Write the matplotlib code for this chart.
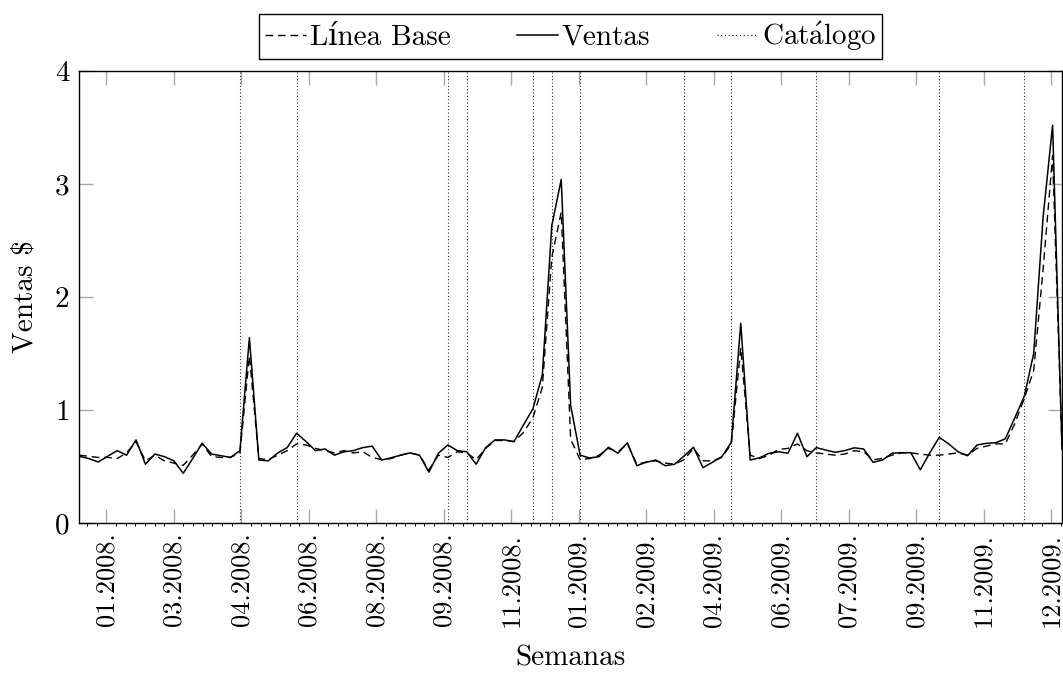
import numpy as np
import pandas as pd
import matplotlib
matplotlib.use('Agg')
import matplotlib.pyplot as plt
import matplotlib.dates as mdates
from matplotlib.lines import Line2D

# weekly sales
ventas = [0.59, 0.57, 0.54, 0.59, 0.64, 0.60, 0.735, 0.52, 0.61, 0.587,
          0.55, 0.44, 0.57, 0.705, 0.61, 0.595, 0.58, 0.64, 1.64, 0.557,
          0.55, 0.62, 0.667, 0.794, 0.72, 0.64, 0.655, 0.60, 0.63, 0.64,
          0.667, 0.68, 0.557, 0.577, 0.60, 0.62, 0.60, 0.45, 0.617, 0.69,
          0.64, 0.63, 0.52, 0.667, 0.735, 0.735, 0.72, 0.867, 1.01, 1.31,
          2.63, 3.04, 1.04, 0.60, 0.575, 0.587, 0.67, 0.617, 0.71, 0.507,
          0.537, 0.557, 0.507, 0.52, 0.593, 0.67, 0.49, 0.537, 0.587, 0.714,
          1.767, 0.557, 0.577, 0.617, 0.63, 0.617, 0.794, 0.587, 0.667, 0.645,
          0.625, 0.64, 0.665, 0.655, 0.537, 0.557, 0.617, 0.622, 0.622, 0.47,
          0.62, 0.758, 0.70, 0.63, 0.595, 0.69, 0.705, 0.71, 0.745, 0.93,
          1.12, 1.50, 2.71, 3.52, 0.65]

linea_base = [0.60, 0.59, 0.58, 0.58, 0.57, 0.62, 0.72, 0.55, 0.60, 0.55,
              0.53, 0.51, 0.60, 0.70, 0.587, 0.58, 0.58, 0.62, 1.48, 0.57,
              0.56, 0.60, 0.64, 0.70, 0.69, 0.66, 0.64, 0.62, 0.64, 0.62,
              0.63, 0.58, 0.56, 0.57, 0.60, 0.62, 0.60, 0.47, 0.60, 0.58,
              0.63, 0.62, 0.56, 0.66, 0.73, 0.73, 0.72, 0.80, 0.93, 1.20,
              2.35, 2.75, 0.74, 0.56, 0.57, 0.60, 0.66, 0.63, 0.70, 0.52,
              0.54, 0.55, 0.53, 0.52, 0.56, 0.66, 0.55, 0.55, 0.58, 0.70,
              1.55, 0.60, 0.57, 0.60, 0.65, 0.66, 0.70, 0.64, 0.62, 0.61,
              0.60, 0.61, 0.64, 0.63, 0.56, 0.57, 0.60, 0.62, 0.62, 0.61,
              0.60, 0.60, 0.61, 0.62, 0.60, 0.66, 0.68, 0.70, 0.70, 0.88,
              1.10, 1.35, 2.25, 3.25, 0.66]

# weeks with a catalogue drop
catalogo_semanas = [17, 23, 39, 41, 48, 50, 53, 64, 69, 78, 91, 100]

tick_labels = ['01.2008.', '03.2008.', '04.2008.', '06.2008.', '08.2008.',
               '09.2008.', '11.2008.', '01.2009.', '02.2009.', '04.2009.',
               '06.2009.', '07.2009.', '09.2009.', '11.2009.', '12.2009.']

fechas = pd.date_range('2008-01-01', periods=len(ventas), freq='7D')
tick_fechas = pd.date_range('2008-01-21', periods=len(tick_labels), freq='50D')

plt.rcParams['font.family'] = ['cmr10', 'DejaVu Serif']
plt.rcParams['mathtext.fontset'] = 'cm'
plt.rcParams['axes.formatter.use_mathtext'] = True
fs = 19

fig = plt.figure(figsize=(10.63, 6.83), dpi=100)
ax = fig.add_axes([0.0746, 0.2343, 0.9245, 0.6618])

x = mdates.date2num(fechas)
ax.plot(x, linea_base, color='black', lw=1.0, ls=(0, (5.5, 3.5)))
ax.plot(x, ventas, color='black', lw=1.1)
xc = x[catalogo_semanas]
ax.vlines(xc, 0, 4, color='black', lw=0.8, linestyles=(0, (0.8, 2.2)))

ax.set_xlim(x[0], x[-1])
ax.set_ylim(0, 4)

xt = mdates.date2num(tick_fechas)
ax.set_xticks(xt)
ax.set_xticklabels(tick_labels, rotation=90, fontsize=fs)
minor = xt[0] + np.arange(-3, 110) * 50 / 7
minor = minor[(minor >= x[0]) & (minor <= x[-1])]
ax.set_xticks(minor, minor=True)
ax.set_yticks([0, 1, 2, 3, 4])
ax.set_yticklabels(['0', '1', '2', '3', '4'], fontsize=21)

ax.tick_params(axis='both', which='major', direction='in', length=10,
               width=1.0, color='#a8a8a8', top=True, right=True, pad=7)
ax.tick_params(axis='x', which='minor', direction='out', length=2.5,
               width=0.7, color='black', top=False)
for s in ax.spines.values():
    s.set_linewidth(1.0)

ax.set_xlabel('Semanas', fontsize=21, labelpad=13)
ax.set_ylabel(r'Ventas \$', fontsize=21, labelpad=12)

handles = [Line2D([], [], color='black', lw=1.0, ls=(0, (5.5, 3.5))),
           Line2D([], [], color='black', lw=1.1),
           Line2D([], [], color='black', lw=0.9, ls=(0, (0.8, 2.2)))]
leg = ax.legend(handles, ['Línea Base', 'Ventas', r'Cat$\mathrm{\acute{a}}$logo'],
                loc='center', bbox_to_anchor=(0.5, 1.077), ncol=3,
                fontsize=21, frameon=True, fancybox=False, framealpha=1,
                edgecolor='black', handlelength=1.4, handletextpad=0.12,
                columnspacing=2.3, borderpad=0.2, borderaxespad=0)
leg.get_frame().set_linewidth(1.0)

fig.savefig('out.png', dpi=100)
